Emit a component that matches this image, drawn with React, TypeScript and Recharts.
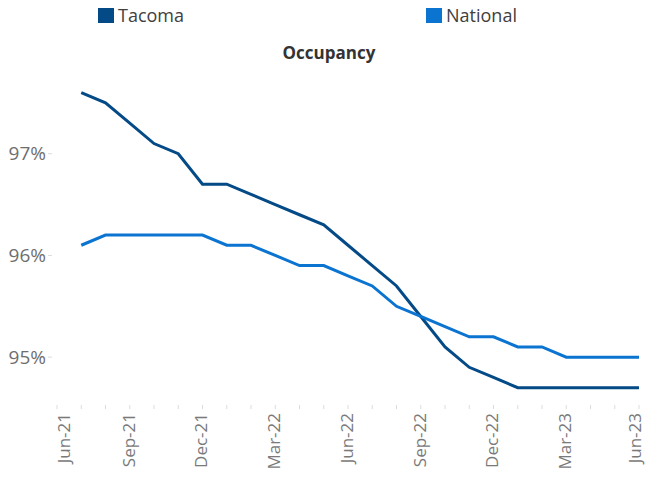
import React from "react";
import { LineChart, Line, XAxis, YAxis } from "recharts";

if (typeof document !== "undefined") {
  document.body.style.margin = "0";
}

const months = [
  "Jun-21", "Jul-21", "Aug-21", "Sep-21", "Oct-21", "Nov-21", "Dec-21",
  "Jan-22", "Feb-22", "Mar-22", "Apr-22", "May-22", "Jun-22", "Jul-22",
  "Aug-22", "Sep-22", "Oct-22", "Nov-22", "Dec-22", "Jan-23", "Feb-23",
  "Mar-23", "Apr-23", "May-23", "Jun-23",
];
const labeledMonths = ["Jun-21", "Sep-21", "Dec-21", "Mar-22", "Jun-22", "Sep-22", "Dec-22", "Mar-23", "Jun-23"];

// Values from Jul-21 through Jun-23
const tacoma = [
  97.6, 97.5, 97.3, 97.1, 97.0, 96.7, 96.7, 96.6, 96.5, 96.4, 96.3, 96.1,
  95.9, 95.7, 95.4, 95.1, 94.9, 94.8, 94.7, 94.7, 94.7, 94.7, 94.7, 94.7,
];
const national = [
  96.1, 96.2, 96.2, 96.2, 96.2, 96.2, 96.1, 96.1, 96.0, 95.9, 95.9, 95.8,
  95.7, 95.5, 95.4, 95.3, 95.2, 95.2, 95.1, 95.1, 95.0, 95.0, 95.0, 95.0,
];
const yTicks = [95, 96, 97];
const seriesNames = ["Tacoma", "National"];

const data = months.map((m, i) => ({
  idx: i,
  month: m,
  Tacoma: i === 0 ? undefined : tacoma[i - 1],
  National: i === 0 ? undefined : national[i - 1],
}));
const xTicks = months.map((_, i) => i);

const FONT = "'Open Sans', sans-serif";
const COLORS: Record<string, string> = { Tacoma: "#034a87", National: "#0b74d1" };
const CHART_W = 647;
const PLOT_LEFT = 57;

const XTick = (props: any) => {
  const { x, y, payload } = props;
  const label = months[payload.value];
  const show = labeledMonths.includes(label);
  const lx = Math.min(Math.max(x, PLOT_LEFT + 8), CHART_W - 11);
  return (
    <g>
      <line x1={x} x2={x} y1={y - 3} y2={y + 1} stroke="#dcdcdc" strokeWidth={1} />
      {show && (
        <text
          transform={`translate(${lx},${y + 5}) rotate(-90)`}
          textAnchor="end"
          dy="0.28em"
          fill="#7a7a7a"
          fontSize={17}
          fontFamily={FONT}
        >
          {label}
        </text>
      )}
    </g>
  );
};

const YTick = (props: any) => {
  const { x, y, payload } = props;
  return (
    <g>
      <line x1={x - 9} x2={x - 5} y1={y} y2={y} stroke="#dcdcdc" strokeWidth={1} />
      <text x={x - 11} y={y} textAnchor="end" dy="0.35em" fill="#6e6e6e" fontSize={19} fontFamily={FONT}>
        {`${payload.value}%`}
      </text>
    </g>
  );
};

const legendLeft: Record<string, number> = { Tacoma: 98, National: 426 };

export default function App() {
  return (
    <div style={{ position: "relative", width: CHART_W, height: 478, background: "#fff" }}>
      {seriesNames.map((name) => (
        <div
          key={name}
          style={{
            position: "absolute",
            left: legendLeft[name],
            top: 4,
            height: 22,
            display: "flex",
            alignItems: "center",
            fontFamily: FONT,
            fontSize: 18,
            color: "#404040",
            zIndex: 2,
          }}
        >
          <span style={{ display: "inline-block", width: 16, height: 15, background: COLORS[name], marginRight: 4 }} />
          <span>{name}</span>
        </div>
      ))}
      <div
        style={{
          position: "absolute",
          top: 42,
          left: 0,
          width: 658,
          textAlign: "center",
          fontFamily: FONT,
          fontWeight: 700,
          fontSize: 17,
          color: "#333",
          lineHeight: "22px",
          zIndex: 2,
        }}
      >
        Occupancy
      </div>
      <LineChart width={CHART_W} height={478} data={data} margin={{ top: 52, right: 8, bottom: 0, left: 0 }}>
        <XAxis
          dataKey="idx"
          type="number"
          domain={[0, 24]}
          ticks={xTicks}
          interval={0}
          axisLine={false}
          tickLine={false}
          tickSize={0}
          tickMargin={0}
          height={70}
          tick={<XTick />}
        />
        <YAxis
          type="number"
          domain={[94.5, 98]}
          ticks={yTicks}
          axisLine={false}
          tickLine={false}
          tickSize={0}
          tickMargin={0}
          width={57}
          tick={<YTick />}
        />
        {seriesNames.map((name) => (
          <Line
            key={name}
            type="linear"
            dataKey={name}
            name={name}
            stroke={COLORS[name]}
            strokeWidth={3}
            dot={false}
            isAnimationActive={false}
          />
        ))}
      </LineChart>
    </div>
  );
}
